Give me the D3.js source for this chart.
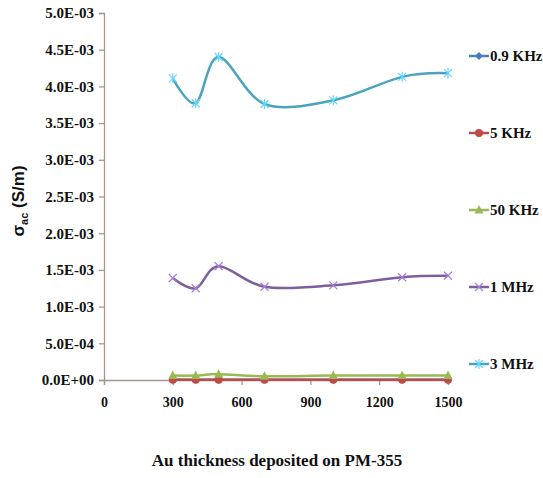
<!DOCTYPE html>
<html><head><meta charset="utf-8">
<script src="https://cdn.jsdelivr.net/npm/d3@7"></script>
<style>body{margin:0;background:#fff}svg{display:block}</style>
</head><body>
<svg id="c" width="543" height="478"></svg>
<script>
const thickness = [300, 400, 500, 700, 1000, 1300, 1500];
const s09KHz = [0.000002, 0.000002, 0.000002, 0.000002, 0.000002, 0.000002, 0.000002];
const s5KHz  = [0.000004, 0.000004, 0.000005, 0.000004, 0.000005, 0.000005, 0.000005];
const s50KHz = [0.00006, 0.00006, 0.00008, 0.00005, 0.00006, 0.00006, 0.00006];
const s1MHz  = [0.00139, 0.00125, 0.00155, 0.00127, 0.00129, 0.00140, 0.00142];
const s3MHz  = [0.00411, 0.00377, 0.00440, 0.00376, 0.00381, 0.00413, 0.00418];
const seriesNames = ["0.9 KHz", "5 KHz", "50 KHz", "1 MHz", "3 MHz"];
const seriesColors = ["#4a7ebb", "#be4b48", "#98b954", "#7d5fa0", "#4ba3bd"];
const seriesMarkers = ["diamond", "circle", "triangle", "x", "star"];
const yTicks = [0, 0.0005, 0.001, 0.0015, 0.002, 0.0025, 0.003, 0.0035, 0.004, 0.0045, 0.005];
const yTickLabels = ["0.0E+00","5.0E-04","1.0E-03","1.5E-03","2.0E-03","2.5E-03","3.0E-03","3.5E-03","4.0E-03","4.5E-03","5.0E-03"];
const xTicks = [0, 300, 600, 900, 1200, 1500];
const allSeries = [s09KHz, s5KHz, s50KHz, s1MHz, s3MHz];

const svg = d3.select("#c");
const x = d3.scaleLinear().domain([0, 1500]).range([104, 448]);
const y = d3.scaleLinear().domain([0, 0.005]).range([380, 13]);
const axisColor = "#a8958f";
const font = "'Liberation Serif','Times New Roman',serif";

// Y axis
const gy = svg.append("g").attr("transform", "translate(104,0)")
  .call(d3.axisLeft(y).tickValues(yTicks).tickFormat((d,i)=>yTickLabels[i]).tickSize(5).tickPadding(5));
gy.select(".domain").attr("stroke", axisColor).attr("stroke-width", 1.3);
gy.selectAll(".tick line").attr("stroke", axisColor).attr("stroke-width", 1.3);
gy.selectAll(".tick text").attr("font-family", font).attr("font-weight", "bold")
  .attr("font-size", 15).attr("fill", "#111");

// X axis
const gx = svg.append("g").attr("transform", "translate(0,380)")
  .call(d3.axisBottom(x).tickValues(xTicks).tickSize(5).tickPadding(12).tickFormat(d3.format("d")));
gx.select(".domain").attr("stroke", axisColor).attr("stroke-width", 1.3);
gx.selectAll(".tick line").attr("stroke", axisColor).attr("stroke-width", 1.3);
gx.selectAll(".tick text").attr("font-family", font).attr("font-weight", "bold")
  .attr("font-size", 14).attr("fill", "#111");

// axis titles
const yt = svg.append("text").attr("transform", "translate(24,201) rotate(-90)")
  .attr("text-anchor", "middle").attr("font-family", "'Liberation Sans',Arial,sans-serif").attr("font-weight", "bold")
  .attr("font-size", 17).attr("fill", "#111");
yt.append("tspan").text("σ");
yt.append("tspan").attr("font-size", 11).attr("dy", 4).text("ac");
yt.append("tspan").attr("dy", -4).text(" (S/m)");

svg.append("text").attr("x", 277).attr("y", 466).attr("text-anchor", "middle")
  .attr("font-family", font).attr("font-weight", "bold").attr("font-size", 17)
  .attr("fill", "#111").text("Au thickness deposited on PM-355");

function drawMarker(g, type, cx, cy, color) {
  const s = 4;
  if (type === "diamond") {
    g.append("path").attr("d", `M${cx},${cy-s}L${cx+s},${cy}L${cx},${cy+s}L${cx-s},${cy}Z`).attr("fill", color);
  } else if (type === "circle") {
    g.append("circle").attr("cx", cx).attr("cy", cy).attr("r", 4).attr("fill", color);
  } else if (type === "triangle") {
    g.append("path").attr("d", `M${cx},${cy-5}L${cx+4.5},${cy+3.5}L${cx-4.5},${cy+3.5}Z`).attr("fill", color);
  } else if (type === "x") {
    g.append("path").attr("d", `M${cx-4},${cy-4}L${cx+4},${cy+4}M${cx-4},${cy+4}L${cx+4},${cy-4}`)
      .attr("stroke", d3.color(color).brighter(0.8)).attr("stroke-width", 1.2);
  } else if (type === "star") {
    g.append("path").attr("d", `M${cx-4},${cy-4}L${cx+4},${cy+4}M${cx-4},${cy+4}L${cx+4},${cy-4}M${cx},${cy-5}L${cx},${cy+5}`)
      .attr("stroke", d3.color(color).brighter(0.8)).attr("stroke-width", 1.2);
  }
}

const line = d3.line().x((d,i)=>x(thickness[i])).y(d=>y(d)).curve(d3.curveCardinal.tension(0));
allSeries.forEach((vals, k) => {
  const g = svg.append("g");
  g.append("path").attr("d", line(vals)).attr("fill", "none")
    .attr("stroke", seriesColors[k]).attr("stroke-width", 2.5);
  vals.forEach((v, i) => drawMarker(g, seriesMarkers[k], x(thickness[i]), y(v), seriesColors[k]));
});

// legend
const legendY = [56, 133, 210, 287, 364];
seriesNames.forEach((n, k) => {
  const g = svg.append("g");
  g.append("line").attr("x1", 469).attr("x2", 489).attr("y1", legendY[k]).attr("y2", legendY[k])
    .attr("stroke", seriesColors[k]).attr("stroke-width", 2.5);
  drawMarker(g, seriesMarkers[k], 479, legendY[k], seriesColors[k]);
  g.append("text").attr("x", 490).attr("y", legendY[k] + 5).attr("font-family", font)
    .attr("font-weight", "bold").attr("font-size", 15).attr("fill", "#111").text(n);
});
</script>
</body></html>
